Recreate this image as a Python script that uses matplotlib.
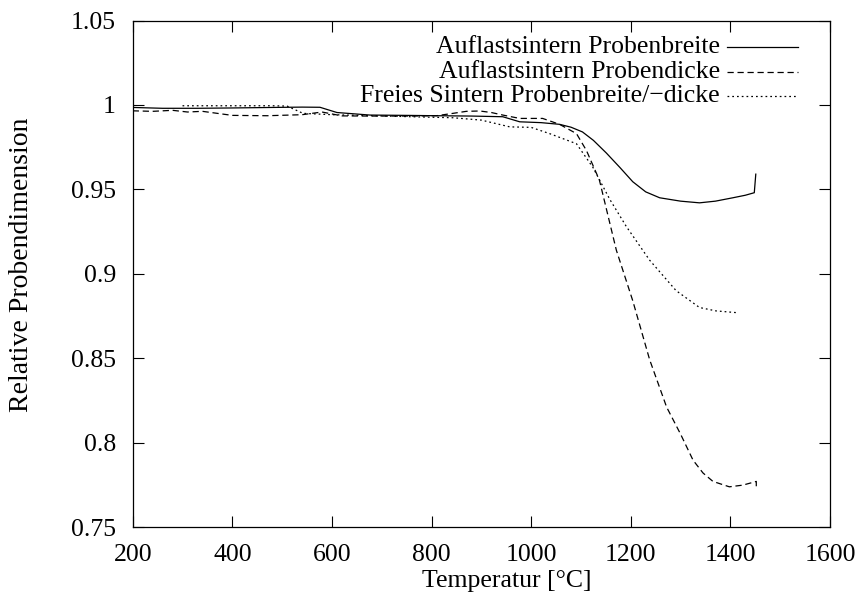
import numpy as np
import matplotlib.pyplot as plt

# Sinterkurven: relative Probendimension ueber der Temperatur
t_breite = [200, 260, 330, 400, 480, 540, 576, 610, 676, 750, 810, 880, 943, 977,
            1020, 1057, 1080, 1103, 1125, 1151, 1178, 1204, 1230, 1258, 1300, 1338,
            1370, 1405, 1430, 1448, 1451]
v_breite = [0.9985, 0.998, 0.998, 0.9982, 0.9985, 0.9987, 0.9986, 0.9955, 0.994, 0.9938,
            0.9936, 0.9934, 0.993, 0.990, 0.9895, 0.9885, 0.9868, 0.984, 0.979, 0.9715,
            0.963, 0.9545, 0.9485, 0.945, 0.943, 0.942, 0.943, 0.945, 0.9465, 0.948, 0.959]

t_dicke = [200, 240, 280, 310, 340, 400, 470, 540, 580, 620, 676, 760, 810, 843, 870,
           897, 920, 943, 977, 1023, 1057, 1091, 1111, 1137, 1171, 1204, 1238, 1272,
           1300, 1325, 1345, 1365, 1398, 1425, 1452, 1452]
v_dicke = [0.9965, 0.9962, 0.9968, 0.9958, 0.9962, 0.9938, 0.9936, 0.9942, 0.9958, 0.9935,
           0.9934, 0.9934, 0.9936, 0.995, 0.9962, 0.9964, 0.9955, 0.994, 0.992, 0.992,
           0.9885, 0.983, 0.973, 0.9555, 0.914, 0.884, 0.849, 0.821, 0.805, 0.7896, 0.782,
           0.777, 0.7738, 0.7748, 0.777, 0.7725]

t_frei = [300, 350, 420, 480, 510, 542, 600, 697, 760, 843, 900, 957, 1000, 1037, 1091,
          1124, 1158, 1191, 1238, 1291, 1338, 1371, 1411]
v_frei = [0.9995, 0.9995, 0.9995, 0.9995, 0.9993, 0.995, 0.9942, 0.9935, 0.993, 0.9924,
          0.991, 0.987, 0.9867, 0.983, 0.977, 0.963, 0.944, 0.928, 0.908, 0.890, 0.880,
          0.878, 0.877]

labels = ['Auflastsintern Probenbreite', 'Auflastsintern Probendicke',
          'Freies Sintern Probenbreite/\u2212dicke']
styles = ['-', (0, (5, 3)), (0, (1.4, 2.4))]

plt.rcParams['font.family'] = ['Liberation Serif', 'DejaVu Serif']
plt.rcParams['font.size'] = 18.5

fig = plt.figure(figsize=(8.61, 6.10), dpi=100)
ax = fig.add_axes([132.7/861, 1-527/610, 697.3/861, 506.5/610])

series = [(t_breite, v_breite), (t_dicke, v_dicke), (t_frei, v_frei)]
for (t, v), ls in zip(series, styles):
    ax.plot(t, v, color='black', linestyle=ls, linewidth=0.9)

ax.set_xlim(200, 1600)
ax.set_ylim(0.75, 1.05)
ax.set_xticks(np.arange(200, 1601, 200))
ax.set_yticks([0.75, 0.8, 0.85, 0.9, 0.95, 1.0, 1.05])
ax.set_yticklabels(['0.75', '0.8', '0.85', '0.9', '0.95', '1', '1.05'])
ax.tick_params(direction='in', length=8, width=0.8, top=True, right=True)
ax.tick_params(axis='x', pad=12)
ax.tick_params(axis='y', pad=12)
for sp in ax.spines.values():
    sp.set_linewidth(0.9)

# Legende im gnuplot-Stil: Text rechtsbuendig, Linienmuster rechts daneben
for i, (lab, ls) in enumerate(zip(labels, styles)):
    yy = 0.947 - i * 0.0485
    ax.text(0.842, yy, lab, transform=ax.transAxes, ha='right', va='center')
    ax.plot([0.853, 0.954], [yy, yy], transform=ax.transAxes, color='black',
            linestyle=ls, linewidth=0.9)

fig.text(507/861, 1-581/610, 'Temperatur [\u00b0C]', ha='center', va='center')
fig.text(22/861, 1-265/610, 'Relative Probendimension', ha='center', va='center',
         rotation=90, fontsize=20)

fig.savefig('out.png', dpi=100)
